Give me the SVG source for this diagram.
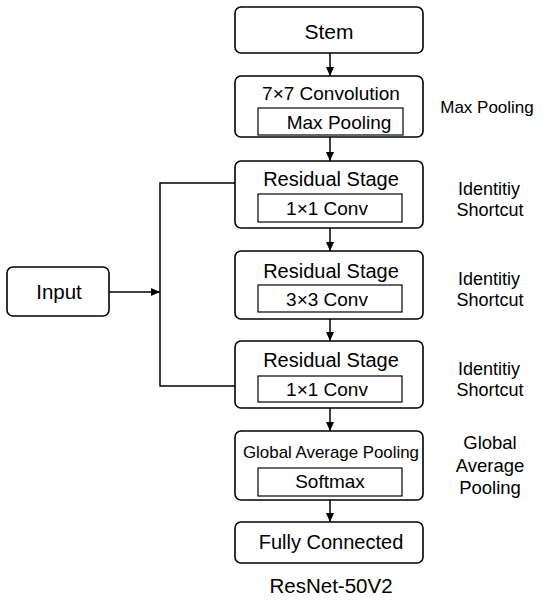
<svg xmlns="http://www.w3.org/2000/svg" width="550" height="602" viewBox="0 0 550 602">
<defs>
<style>
.box{fill:#fff;stroke:#000;stroke-width:1.6}
.inner{fill:#fff;stroke:#000;stroke-width:1.2}
.t{font-family:"Liberation Sans",Arial,Helvetica,sans-serif;fill:#000;text-anchor:middle}
.edge{fill:none;stroke:#000;stroke-width:1.5}
</style>
<marker id="ah" markerWidth="10" markerHeight="10" refX="9" refY="5" orient="auto" markerUnits="userSpaceOnUse">
<path d="M0,1 L9,5 L0,9 Z" fill="#000"/>
</marker>
</defs>
<rect width="550" height="602" fill="#fff"/>
<g id="edges">
<line class="edge" x1="330" y1="53" x2="330" y2="76" marker-end="url(#ah)"/>
<line class="edge" x1="330" y1="137" x2="330" y2="161" marker-end="url(#ah)"/>
<line class="edge" x1="330" y1="228" x2="330" y2="251" marker-end="url(#ah)"/>
<line class="edge" x1="330" y1="319" x2="330" y2="341" marker-end="url(#ah)"/>
<line class="edge" x1="330" y1="408" x2="330" y2="431" marker-end="url(#ah)"/>
<line class="edge" x1="330" y1="500" x2="330" y2="522" marker-end="url(#ah)"/>
<line class="edge" x1="109" y1="292" x2="160" y2="292" marker-end="url(#ah)"/>
<polyline class="edge" points="235,183 160,183 160,386 235,386"/>
</g>
<g id="stem">
<rect class="box" x="235" y="7" width="188" height="46" rx="6"/>
<text class="t" x="329" y="39" font-size="21">Stem</text>
</g>
<g id="conv">
<rect class="box" x="235" y="76" width="188" height="61" rx="6"/>
<text class="t" x="331" y="100" font-size="19">7×7 Convolution</text>
<rect class="inner" x="258" y="108" width="145" height="27"/>
<text class="t" x="339" y="129" font-size="19">Max Pooling</text>
</g>
<g id="res1">
<rect class="box" x="235" y="161" width="188" height="67" rx="6"/>
<text class="t" x="331" y="186" font-size="20">Residual Stage</text>
<rect class="inner" x="258" y="194" width="144" height="28"/>
<text class="t" x="327" y="215" font-size="19">1×1 Conv</text>
</g>
<g id="res2">
<rect class="box" x="235" y="251" width="188" height="68" rx="6"/>
<text class="t" x="331" y="278" font-size="20">Residual Stage</text>
<rect class="inner" x="258" y="285" width="144" height="27"/>
<text class="t" x="327" y="306" font-size="19">3×3 Conv</text>
</g>
<g id="res3">
<rect class="box" x="235" y="341" width="188" height="67" rx="6"/>
<text class="t" x="331" y="367" font-size="20">Residual Stage</text>
<rect class="inner" x="258" y="376" width="144" height="26"/>
<text class="t" x="327" y="396" font-size="19">1×1 Conv</text>
</g>
<g id="gap">
<rect class="box" x="235" y="431" width="188" height="69" rx="6"/>
<text class="t" x="331" y="458" font-size="17" textLength="176" lengthAdjust="spacingAndGlyphs">Global Average Pooling</text>
<rect class="inner" x="258" y="468" width="144" height="28"/>
<text class="t" x="330" y="488" font-size="19">Softmax</text>
</g>
<g id="fc">
<rect class="box" x="235" y="522" width="188" height="41" rx="6"/>
<text class="t" x="331" y="549" font-size="20">Fully Connected</text>
</g>
<g id="input">
<rect class="box" x="7" y="267" width="102" height="49" rx="6"/>
<text class="t" x="59" y="299" font-size="20.5">Input</text>
</g>
<g id="labels">
<text class="t" x="487" y="113" font-size="17">Max Pooling</text>
<text class="t" x="489" y="195" font-size="18">Identitiy</text>
<text class="t" x="490" y="216" font-size="18">Shortcut</text>
<text class="t" x="489" y="285" font-size="18">Identitiy</text>
<text class="t" x="490" y="306" font-size="18">Shortcut</text>
<text class="t" x="489" y="375" font-size="18">Identitiy</text>
<text class="t" x="490" y="396" font-size="18">Shortcut</text>
<text class="t" x="490" y="449" font-size="18.5">Global</text>
<text class="t" x="490" y="472" font-size="18.5">Average</text>
<text class="t" x="490" y="494" font-size="18.5">Pooling</text>
<text class="t" x="331" y="593" font-size="20.5">ResNet-50V2</text>
</g>
</svg>
